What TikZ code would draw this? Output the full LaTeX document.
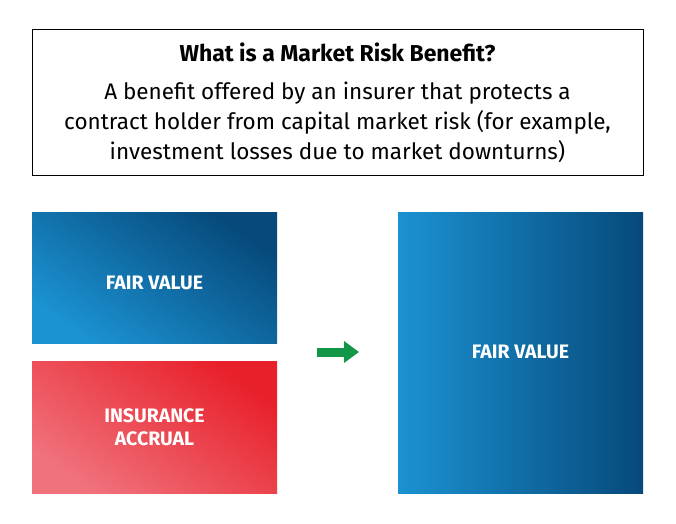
\documentclass[tikz,border=0pt]{standalone}
\usepackage{fontspec}
\setmainfont{Fira Sans}
\usetikzlibrary{arrows.meta}
\definecolor{bluelight}{HTML}{1B92D2}
\definecolor{bluedark}{HTML}{06497A}
\definecolor{redlight}{HTML}{F0727C}
\definecolor{reddark}{HTML}{E8202A}
\definecolor{arrowgreen}{HTML}{129748}
\tikzset{
  boxlabel/.style={text=white,font=\bfseries\fontsize{19.5}{23}\selectfont,align=center},
  hdrbox/.style={draw=black,line width=1pt},
}
\begin{document}
\begin{tikzpicture}[x=1pt,y=-1pt]
\useasboundingbox (0,0) rectangle (676,523);
% header
\draw[hdrbox] (32,29) rectangle (643,175);
\node (title) at (337.5,52) {\bfseries\fontsize{23}{26}\selectfont What is a Market Risk Benefit?};
\node[align=center,font=\fontsize{22.5}{30}\selectfont] (desc) at (337.5,122)
  {A benefit offered by an insurer that protects a\\contract holder from capital market risk (for example,\\investment losses due to market downturns)};
% boxes
\shade[left color=bluedark,right color=bluelight,shading angle=-35] (32,212) rectangle (277,343);
\node[boxlabel] (fv1) at (154.5,283) {FAIR VALUE};
\shade[left color=reddark,right color=redlight,shading angle=-35] (32,361) rectangle (277,493);
\node[boxlabel] (ia) at (154.5,427) {INSURANCE\\ACCRUAL};
\shade[left color=bluelight,right color=bluedark] (398,212) rectangle (643,493);
\node[boxlabel] (fv2) at (520.5,352) {FAIR VALUE};
% arrow
\coordinate (as) at (317,352);
\coordinate (ae) at (359,352);
\draw[arrowgreen,line width=9pt,-{Triangle[length=15pt,width=21pt]}] (as) -- (ae);
\end{tikzpicture}
\end{document}
